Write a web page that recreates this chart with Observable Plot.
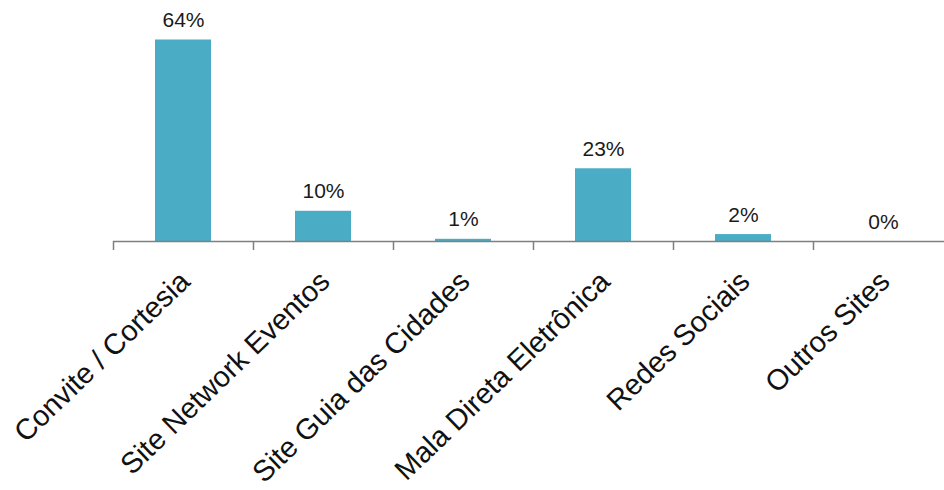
<!DOCTYPE html>
<html>
<head>
<meta charset="utf-8">
<script src="https://cdn.jsdelivr.net/npm/d3@7"></script>
<script src="https://cdn.jsdelivr.net/npm/@observablehq/plot@0.6"></script>
<style>
  html, body { margin: 0; padding: 0; background: #fff; }
  svg { font-family: "Liberation Sans", Arial, sans-serif; }
</style>
</head>
<body>
<div id="chart"></div>
<script>
const categories = ["Convite / Cortesia", "Site Network Eventos", "Site Guia das Cidades", "Mala Direta Eletrônica", "Redes Sociais", "Outros Sites"];
const values = [64, 9.6, 0.7, 23.1, 2.2, 0];
const valueLabels = ["64%", "10%", "1%", "23%", "2%", "0%"];

const data = categories.map((c, i) => ({category: c, value: values[i], label: valueLabels[i]}));

const bandStart = 113, band = 140;
const chart = Plot.plot({
  width: 944,
  height: 490,
  marginTop: 0,
  marginRight: 0,
  marginBottom: 0,
  marginLeft: bandStart,
  style: {fontFamily: "'Liberation Sans', Arial, sans-serif", background: "#fff"},
  x: {domain: categories, range: [bandStart, bandStart + band * categories.length], padding: 0, axis: null},
  y: {domain: [0, 64], range: [241, 39.5], axis: null},
  marks: [
    Plot.barY(data, {x: "category", y: "value", fill: "#4BACC6", insetLeft: 42, insetRight: 42}),
    Plot.ruleY([0], {stroke: "#7f7f7f", strokeWidth: 1.5}),
    Plot.ruleX(data, {x: "category", y1: 0, y2: 0, dx: -band / 2, stroke: "#7f7f7f", strokeWidth: 1.5,
      render(index, scales, values, dims, context, next) {
        const g = next(index, scales, values, dims, context);
        d3.select(g).selectAll("line").attr("y2", function() { return +this.getAttribute("y1") + 9; });
        return g;
      }}),
    Plot.text(data, {x: "category", y: "value", text: "label", lineAnchor: "bottom", dy: -13, fontSize: 21, fill: "#1a1a1a"}),
    Plot.text(data, {x: "category", y: 0, text: "category", rotate: -44, textAnchor: "end", lineAnchor: "bottom", dx: 8, dy: 42, fontSize: 29, fill: "#111"})
  ]
});
document.getElementById("chart").appendChild(chart);
</script>
</body>
</html>
